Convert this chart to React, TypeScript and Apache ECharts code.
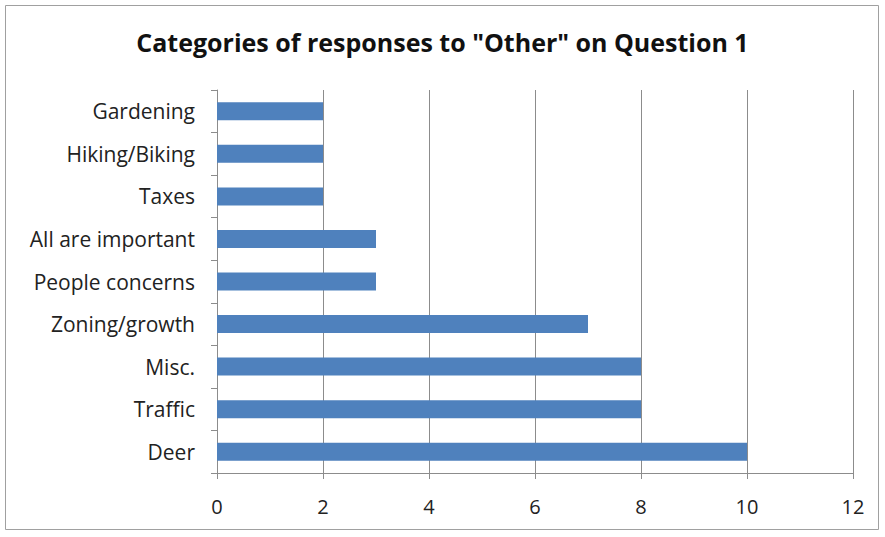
import React, { useEffect, useRef } from "react";
import * as echarts from "echarts";

const categories = [
  "Deer",
  "Traffic",
  "Misc.",
  "Zoning/growth",
  "People concerns",
  "All are important",
  "Taxes",
  "Hiking/Biking",
  "Gardening",
];
const values = [10, 8, 8, 7, 3, 3, 2, 2, 2];
const xTicks = { min: 0, max: 12, interval: 2 };
const titleText = 'Categories of responses to "Other" on Question 1';

export default function App() {
  const ref = useRef<HTMLDivElement>(null);
  useEffect(() => {
    if (!ref.current) return;
    const chart = echarts.init(ref.current, undefined, { renderer: "svg" });
    const font = "Open Sans";
    chart.setOption({
      animation: false,
      backgroundColor: "#ffffff",
      title: {
        text: titleText,
        left: "center",
        top: 24,
        textStyle: { fontFamily: font, fontWeight: "bold", fontSize: 25, color: "#111" },
      },
      graphic: [
        {
          type: "rect",
          shape: { x: 5.5, y: 5.5, width: 873, height: 524 },
          style: { fill: "none", stroke: "#a0a0a0", lineWidth: 1 },
          silent: true,
        },
      ],
      grid: { left: 217, right: 32, top: 90, bottom: 64 },
      xAxis: {
        type: "value",
        min: xTicks.min,
        max: xTicks.max,
        interval: xTicks.interval,
        axisLine: { show: true, lineStyle: { color: "#8c8c8c", width: 1 } },
        axisTick: { show: true, length: 6, lineStyle: { color: "#8c8c8c" } },
        splitLine: { show: true, lineStyle: { color: "#8c8c8c", width: 1 } },
        axisLabel: { fontFamily: font, fontSize: 20, color: "#222", margin: 23 },
      },
      yAxis: {
        type: "category",
        data: categories,
        axisLine: { show: true, lineStyle: { color: "#8c8c8c", width: 1 } },
        axisTick: { show: true, length: 6, alignWithLabel: false, lineStyle: { color: "#8c8c8c" } },
        splitLine: { show: false },
        axisLabel: { fontFamily: font, fontSize: 21, color: "#222", margin: 22 },
      },
      series: [
        {
          type: "bar",
          data: values,
          barWidth: 18,
          itemStyle: { color: "#4F81BD" },
        },
      ],
    });
    return () => chart.dispose();
  }, []);
  return (
    <div
      ref={ref}
      style={{ position: "fixed", left: 0, top: 0, width: 885, height: 537 }}
    />
  );
}
